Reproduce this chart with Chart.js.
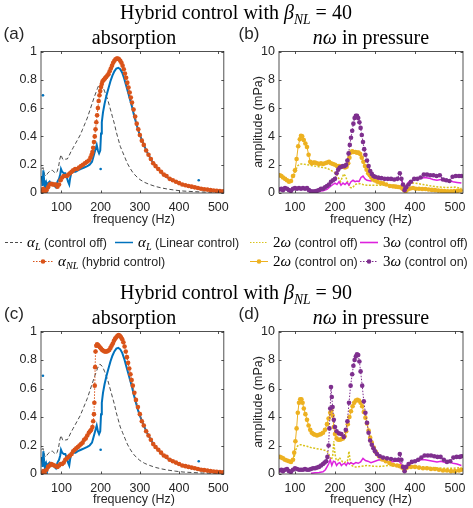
<!DOCTYPE html>
<html>
<head>
<meta charset="utf-8">
<script src="https://cdn.jsdelivr.net/npm/chart.js@4.4.1/dist/chart.umd.min.js"></script>
<style>
  body { margin: 0; background: #fff; }
  #wrap { position: relative; width: 473px; height: 508px; overflow: hidden; background: #fff; }
  canvas { position: absolute; }
  .txt { position: absolute; white-space: nowrap; line-height: 1; }
  .serif { font-family: "Liberation Serif", "DejaVu Serif", serif; color: #000; }
  .sans { font-family: "Liberation Sans", Arial, sans-serif; color: #262626; }
  .m { font-family: "Liberation Serif", serif; font-style: italic; font-size: 15px; color: #000; }
  .r { font-family: "Liberation Serif", serif; font-style: normal; }
  sub { font-size: 0.68em; vertical-align: -0.35em; line-height: 0; }
</style>
</head>
<body>
<div id="wrap">
  <canvas id="cA" width="236" height="177" style="left:0;top:40px"></canvas>
  <canvas id="cB" width="233" height="177" style="left:240px;top:40px"></canvas>
  <canvas id="cC" width="236" height="178" style="left:0;top:320px"></canvas>
  <canvas id="cD" width="233" height="178" style="left:240px;top:320px"></canvas>
  <canvas id="leg" width="473" height="508" style="left:0;top:0"></canvas>
</div>
<script>
// ---- data ----
const xTicks = [100, 200, 300, 400, 500];
const absTicks = [0, 0.2, 0.4, 0.6, 0.8, 1];
const ampTicks = [0, 2, 4, 6, 8, 10];

// absorption, control off (same in a and c)
const freqOff = [50,53,57,61,65,69,73,77,81,85,89,93,96,99,103,107,111,115,119,124,130,136,142,148,154,160,166,172,178,184,188,192,195,198,201,204,207,210,214,218,222,226,230,235,240,245,250,256,262,268,275,282,290,300,312,325,340,355,370,390,410,435,460,485,512];
const alphaOff = [0.17,0.18,0.13,0.12,0.14,0.15,0.16,0.16,0.15,0.14,0.15,0.19,0.24,0.27,0.24,0.23,0.24,0.24,0.26,0.29,0.32,0.35,0.38,0.41,0.45,0.49,0.53,0.58,0.63,0.68,0.71,0.74,0.76,0.77,0.765,0.755,0.74,0.72,0.69,0.66,0.62,0.58,0.54,0.49,0.43,0.38,0.33,0.29,0.25,0.21,0.175,0.145,0.12,0.095,0.075,0.06,0.046,0.036,0.028,0.02,0.014,0.01,0.007,0.005,0.003];

// absorption, linear control
const freqLin = [50,52,54,56,58,60,62,64,66,70,74,78,82,86,90,94,97,99,102,106,110,114,117,120,122,125,130,136,142,150,158,166,172,178,182,186,190,193,196,199,201,203,206,210,215,220,225,230,235,240,245,250,255,260,265,270,275,280,285,290,295,300,310,320,330,340,350,360,370,380,390,400,420,440,460,480,500,512];
const alphaLin = [0.12,0.05,0.16,0.09,0.04,0.02,0.06,0.03,0.07,0.08,0.06,0.07,0.05,0.04,0.08,0.1,0.13,0.17,0.15,0.14,0.14,0.11,0.08,0.06,0.1,0.14,0.15,0.15,0.16,0.17,0.18,0.19,0.2,0.22,0.26,0.3,0.34,0.3,0.28,0.3,0.42,0.5,0.57,0.63,0.69,0.74,0.79,0.83,0.86,0.88,0.885,0.875,0.85,0.81,0.76,0.71,0.66,0.61,0.55,0.5,0.45,0.41,0.34,0.28,0.23,0.19,0.16,0.13,0.11,0.095,0.08,0.068,0.05,0.037,0.027,0.02,0.014,0.012];
const freqLinOut = [53, 200, 450];
const alphaLinOut = [0.69, 0.17, 0.09];

// absorption, hybrid control beta 40
const freqNL40 = [50,54,58,62,66,70,74,78,82,86,90,94,98,102,106,110,114,118,122,126,130,135,140,145,150,155,160,165,170,174,177,179,181,183,185,187,189,191,193,195,197,199,201,203,205,208,211,214,217,220,223,226,229,232,235,238,241,244,247,250,253,256,259,262,265,268,271,274,277,280,284,288,292,296,300,305,310,316,322,328,334,340,347,354,361,368,376,384,392,400,408,416,424,432,440,448,456,464,472,480,488,496,504,512];
const alphaNL40 = [0.01,0.03,0.01,0.02,0.04,0.06,0.065,0.06,0.06,0.06,0.045,0.06,0.09,0.11,0.12,0.12,0.12,0.13,0.14,0.15,0.16,0.17,0.17,0.18,0.19,0.2,0.21,0.22,0.23,0.25,0.27,0.29,0.32,0.36,0.4,0.45,0.5,0.55,0.6,0.65,0.69,0.72,0.75,0.77,0.79,0.8,0.81,0.82,0.83,0.84,0.86,0.88,0.9,0.92,0.935,0.945,0.95,0.95,0.945,0.935,0.92,0.9,0.875,0.845,0.815,0.78,0.745,0.71,0.675,0.64,0.59,0.54,0.49,0.45,0.41,0.37,0.34,0.3,0.27,0.24,0.21,0.19,0.17,0.15,0.13,0.12,0.1,0.09,0.08,0.07,0.06,0.055,0.05,0.045,0.04,0.035,0.03,0.027,0.024,0.02,0.018,0.016,0.014,0.012];

// absorption, hybrid control beta 90
const freqNL90 = [50,54,58,62,66,70,74,78,82,86,90,94,98,102,106,110,114,118,122,126,130,134,138,142,146,150,154,158,162,166,170,173,176,179,181,183,184,185,186,187,189,191,193,195,198,201,204,207,210,213,216,219,222,225,228,231,234,237,240,243,246,249,252,255,258,261,264,267,270,273,276,279,282,286,290,295,300,305,310,316,322,328,334,340,347,354,361,368,376,384,392,400,408,416,424,432,440,448,456,464,472,480,488,496,504,512];
const alphaNL90 = [0.0,0.02,0.0,0.03,0.05,0.06,0.07,0.065,0.06,0.055,0.05,0.06,0.07,0.07,0.08,0.1,0.11,0.12,0.13,0.14,0.16,0.17,0.18,0.19,0.2,0.21,0.22,0.24,0.25,0.27,0.29,0.3,0.31,0.33,0.37,0.42,0.5,0.62,0.75,0.86,0.9,0.91,0.905,0.9,0.89,0.88,0.87,0.865,0.86,0.86,0.86,0.865,0.87,0.885,0.9,0.915,0.935,0.95,0.96,0.97,0.975,0.97,0.96,0.945,0.925,0.895,0.86,0.82,0.78,0.74,0.7,0.66,0.62,0.57,0.52,0.47,0.42,0.37,0.34,0.3,0.27,0.24,0.21,0.19,0.17,0.15,0.13,0.12,0.1,0.09,0.08,0.07,0.06,0.055,0.05,0.045,0.04,0.035,0.03,0.027,0.024,0.02,0.018,0.016,0.014,0.012];

// pressure harmonics, beta 40
const freqB2on = [62,66,70,75,80,85,90,95,100,104,108,112,115,118,122,126,130,134,138,142,146,150,155,160,165,170,175,180,185,190,195,200,205,210,215,220,225,229,233,236,239,243,247,251,255,259,263,267,271,275,279,283,287,291,295,300,306,313,320,328,337,345,352,358,364,369,373,377,382,388,395,402,410,418,426,434,442,450,458,466,474,482,490,498,506,514];
const b2on = [1.25,1.2,1.1,1.0,0.9,0.8,0.85,1.2,1.6,2.4,3.3,3.8,4.05,4.0,3.75,3.5,3.25,2.7,2.2,2.1,2.15,2.15,2.1,2.05,2.1,2.05,2.1,2.15,2.2,2.1,2.05,2.0,1.9,1.9,1.85,1.85,1.8,1.85,2.1,2.5,2.85,2.95,2.9,2.9,2.85,2.85,2.75,2.5,2.2,1.9,1.65,1.4,1.25,1.1,0.95,0.88,0.8,0.72,0.68,0.6,0.5,0.47,0.45,0.42,0.4,0.3,0.2,0.15,0.25,0.32,0.35,0.3,0.3,0.28,0.28,0.25,0.22,0.2,0.17,0.15,0.13,0.12,0.12,0.13,0.15,0.18];
const freqB2off = [98,102,106,110,115,120,130,140,150,160,170,180,190,196,202,206,210,214,218,222,226,230,234,238,242,246,250,256,263,270,280,295,310,325,345,360,366,370,374,380,390,400,420,440,460,480,500,516];
const b2off = [1.2,1.6,1.9,2.0,2.05,2.05,2.0,1.95,1.9,1.85,1.8,1.75,1.6,1.5,1.4,1.2,1.0,0.8,1.1,1.35,1.2,0.9,0.6,0.4,0.35,0.45,0.6,0.65,0.66,0.6,0.55,0.55,0.55,0.55,0.55,0.5,0.42,0.35,0.45,0.6,0.72,0.7,0.6,0.5,0.42,0.38,0.42,0.32];
const freqB3off = [150,160,170,180,190,195,200,205,210,215,220,225,230,235,240,245,250,255,260,265,270,275,280,290,300,310,320,330,340,350,360,366,370,374,378,385,395,405,415,425,435,445,455,465,475,485,495,505,516];
const b3off = [0.1,0.12,0.15,0.25,0.5,0.6,0.7,0.6,0.8,0.55,0.7,0.6,0.75,0.55,0.8,0.9,0.8,0.85,0.8,1.1,1.2,1.0,0.9,0.85,1.0,0.95,1.0,0.95,0.9,0.95,1.0,0.95,0.6,0.3,0.5,0.8,0.9,1.0,1.05,1.1,1.05,0.95,0.9,0.95,0.85,0.9,0.8,0.75,0.7];
const freqB3on = [62,66,70,75,80,85,90,95,100,105,110,115,120,125,130,135,140,145,150,155,160,165,170,175,180,185,190,195,200,204,208,212,216,220,224,228,231,234,237,240,243,246,249,252,255,258,261,264,267,270,273,276,280,284,288,292,296,300,308,316,324,332,340,348,356,362,366,370,374,378,384,390,398,406,414,422,430,438,446,454,462,470,478,486,494,502,510,516];
const b3on = [0.25,0.3,0.2,0.35,0.3,0.2,0.15,0.3,0.35,0.3,0.35,0.3,0.35,0.3,0.35,0.2,0.12,0.1,0.12,0.15,0.2,0.3,0.3,0.4,0.5,0.6,0.8,0.9,1.0,1.4,1.65,1.8,1.85,1.9,1.9,2.0,2.3,2.8,3.4,3.9,4.4,4.9,5.3,5.45,5.45,5.3,5.0,4.6,4.1,3.6,3.1,2.7,2.3,1.9,1.55,1.35,1.2,1.15,1.1,1.05,1.0,1.0,1.0,0.95,1.0,1.4,1.0,0.6,0.2,0.4,0.6,0.8,1.0,1.0,1.1,1.3,1.3,1.25,1.25,1.2,1.25,0.95,0.9,0.85,1.15,1.2,1.2,1.2];

// pressure harmonics, beta 90
const freqD2on = [62,66,70,75,80,85,90,95,98,101,104,107,110,113,116,119,122,126,130,134,138,142,146,150,155,160,165,170,175,180,184,188,191,194,197,200,204,208,212,216,220,224,228,232,236,240,244,248,252,256,260,264,268,272,276,280,284,288,292,297,302,310,318,327,336,345,355,362,368,374,380,390,400,410,420,430,440,450,460,470,480,490,500,510,516];
const d2on = [1.2,1.15,1.1,1.0,0.95,0.9,0.85,1.0,1.5,2.3,3.2,4.3,5.0,5.25,5.25,5.0,4.6,4.2,3.8,3.4,3.1,2.9,2.8,2.75,2.7,2.75,2.8,2.9,3.1,3.5,3.9,4.3,4.45,4.1,3.3,2.8,2.5,2.4,2.4,2.45,2.5,2.65,3.0,3.5,4.0,4.4,4.75,5.0,5.15,5.2,5.15,5.0,4.75,4.35,3.95,3.55,3.05,2.55,2.2,1.85,1.55,1.25,1.02,0.9,0.78,0.65,0.6,0.55,0.45,0.25,0.45,0.5,0.5,0.45,0.4,0.4,0.35,0.35,0.3,0.25,0.25,0.2,0.2,0.25,0.3];
const freqD2off = [98,102,106,110,115,120,130,140,150,160,170,176,182,186,190,194,197,200,203,207,211,215,219,223,227,231,235,238,242,248,256,266,280,295,310,335,360,366,370,374,380,395,420,445,470,495,516];
const d2off = [1.2,1.7,1.95,2.05,2.05,2.0,1.95,1.85,1.8,1.75,1.7,1.65,1.55,1.3,1.0,1.2,2.3,1.4,1.0,0.95,1.15,1.0,0.85,0.8,0.85,0.9,1.6,0.9,0.6,0.5,0.5,0.55,0.6,0.55,0.52,0.6,0.55,0.45,0.3,0.35,0.45,0.55,0.5,0.45,0.4,0.4,0.45];
const freqD3off = [140,150,160,170,176,180,184,188,192,196,200,204,208,212,216,220,224,228,232,236,240,246,252,258,264,270,276,282,290,300,310,320,330,340,350,360,366,372,378,386,395,405,415,425,435,445,455,465,475,485,495,505,516];
const d3off = [0.05,0.08,0.1,0.15,0.3,0.5,0.7,1.0,0.6,0.9,0.85,0.6,0.75,0.8,0.6,0.7,0.75,0.6,0.8,0.7,0.8,0.7,0.8,0.75,0.85,1.1,0.95,0.9,0.8,0.9,1.0,0.95,0.9,0.85,0.9,0.9,0.7,0.3,0.5,0.7,0.85,0.9,1.0,1.0,0.95,0.9,0.85,0.9,0.8,0.85,0.75,0.7,0.6];
const freqD3on = [62,66,70,75,80,85,90,95,100,105,110,115,120,125,130,135,140,145,150,155,160,165,170,174,178,181,184,186,188,190,192,194,197,200,204,210,216,222,227,231,235,239,243,246,249,252,255,258,261,264,268,272,276,280,284,288,292,296,300,305,312,320,330,340,350,358,362,366,370,374,378,384,392,400,408,416,424,432,440,448,456,464,472,480,488,496,504,512,516];
const d3on = [0.25,0.3,0.2,0.3,0.35,0.2,0.15,0.3,0.4,0.35,0.3,0.3,0.3,0.35,0.3,0.3,0.35,0.4,0.4,0.45,0.5,0.6,0.7,0.8,0.9,1.2,2.0,3.2,4.6,6.1,5.4,4.7,3.8,3.3,3.0,2.85,2.8,2.6,3.1,3.7,5.0,6.2,7.0,7.6,8.0,8.25,8.4,8.35,7.9,7.2,6.2,5.1,4.3,3.6,2.9,2.35,2.05,1.8,1.6,1.4,1.25,1.15,1.1,1.05,1.0,1.0,1.4,1.0,0.5,0.2,0.5,0.7,0.85,0.9,1.0,1.15,1.3,1.3,1.3,1.25,1.2,1.2,1.0,0.85,0.9,1.15,1.2,1.2,1.25];

// ---- styles ----
const C = {
    gray: 'rgba(45,45,45,0.85)',
    blue: '#0072BD',
    orange: '#D95319',
    gold: '#EDB120',
    yellow: '#D9C31C',
    magenta: '#DD22DD',
    purple: '#7E2F8E'
};
const axisColor = '#262626';
const tickFont = { family: '"Liberation Sans", Arial, sans-serif', size: 12.5 };

function pts (f, v) {
    return f.map((x, i) => ({ x, y: v[i] }));
}

// box round the plot with inward ticks, as in the original figure
const boxPlugin = {
    id: 'box',
    afterDatasetsDraw (chart) {
        const { ctx, chartArea: a, scales: { x, y } } = chart;
        const L = 2.5;
        ctx.save();
        ctx.strokeStyle = axisColor;
        ctx.lineWidth = 0.8;
        ctx.strokeRect(a.left, a.top, a.right - a.left, a.bottom - a.top);
        ctx.beginPath();
        x.ticks.forEach(t => {
            const px = Math.round(x.getPixelForValue(t.value)) + 0.5;
            ctx.moveTo(px, a.bottom); ctx.lineTo(px, a.bottom - L);
            ctx.moveTo(px, a.top); ctx.lineTo(px, a.top + L);
        });
        y.ticks.forEach(t => {
            const py = Math.round(y.getPixelForValue(t.value)) + 0.5;
            ctx.moveTo(a.left, py); ctx.lineTo(a.left + L, py);
            ctx.moveTo(a.right, py); ctx.lineTo(a.right - L, py);
        });
        ctx.stroke();
        ctx.restore();
    }
};

function scales (xmin, xmax, ymax, yTicks, yWidth) {
    return {
        x: {
            type: 'linear', min: xmin, max: xmax,
            grid: { display: false, drawTicks: false }, border: { display: false },
            afterBuildTicks: s => { s.ticks = xTicks.map(v => ({ value: v })); },
            afterFit: s => { s.height = 24; },
            ticks: { font: tickFont, color: axisColor, padding: 7, maxRotation: 0, callback: v => String(v) }
        },
        y: {
            type: 'linear', min: 0, max: ymax,
            grid: { display: false, drawTicks: false }, border: { display: false },
            afterBuildTicks: s => { s.ticks = yTicks.map(v => ({ value: v })); },
            afterFit: s => { s.width = yWidth; },
            ticks: { font: tickFont, color: axisColor, padding: 4, callback: v => String(v) }
        }
    };
}

function makeChart (id, datasets, sc, padRight) {
    return new Chart(document.getElementById(id), {
        type: 'line',
        data: { datasets },
        plugins: [boxPlugin],
        options: {
            responsive: false,
            animation: false,
            events: [],
            layout: { padding: { top: 11, right: padRight, left: 0, bottom: 0 } },
            elements: { line: { tension: 0 } },
            plugins: { legend: { display: false }, tooltip: { enabled: false } },
            scales: sc
        }
    });
}

function absorptionSets (freqNL, alphaNL) {
    return [
        { data: pts(freqOff, alphaOff), borderColor: C.gray, borderDash: [4, 2.5], borderWidth: 1, pointRadius: 0, order: 3 },
        { data: pts(freqLin, alphaLin), borderColor: C.blue, borderWidth: 2, pointRadius: 0, order: 2 },
        { data: pts(freqLinOut, alphaLinOut), showLine: false, pointRadius: 1.3, pointBackgroundColor: C.blue, pointBorderWidth: 0, order: 2 },
        { data: pts(freqNL, alphaNL), borderColor: C.orange, borderDash: [1.5, 1.5], borderWidth: 1, pointRadius: 2.3, pointBackgroundColor: C.orange, pointBorderWidth: 0, order: 1 }
    ];
}

function pressureSets (f2off, v2off, f3off, v3off, f2on, v2on, f3on, v3on) {
    return [
        { data: pts(f2off, v2off), borderColor: C.yellow, borderDash: [2, 1.5], borderWidth: 1.5, pointRadius: 0, order: 4 },
        { data: pts(f3off, v3off), borderColor: C.magenta, borderWidth: 1.5, pointRadius: 0, order: 3 },
        { data: pts(f2on, v2on), borderColor: C.gold, borderWidth: 1, pointRadius: 2.3, pointBackgroundColor: C.gold, pointBorderWidth: 0, order: 2 },
        { data: pts(f3on, v3on), borderColor: C.purple, borderDash: [1.5, 1.5], borderWidth: 1, pointRadius: 2.3, pointBackgroundColor: C.purple, pointBorderWidth: 0, order: 1 }
    ];
}

makeChart('cA', absorptionSets(freqNL40, alphaNL40), scales(48, 514, 1, absTicks, 41), 8);
makeChart('cC', absorptionSets(freqNL90, alphaNL90), scales(48, 514, 1, absTicks, 41), 8);
makeChart('cB', pressureSets(freqB2off, b2off, freqB3off, b3off, freqB2on, b2on, freqB3on, b3on), scales(60, 520, 10, ampTicks, 39), 10);
makeChart('cD', pressureSets(freqD2off, d2off, freqD3off, d3off, freqD2on, d2on, freqD3on, d3on), scales(60, 520, 10, ampTicks, 39), 10);

// ---- text ----
const wrap = document.getElementById('wrap');
function put (html, x, y, cls, size, how) {
    const d = document.createElement('div');
    d.className = 'txt ' + cls;
    d.style.fontSize = size + 'px';
    d.innerHTML = html;
    d.style.left = x + 'px';
    d.style.top = y + 'px';
    if (how === 'left') d.style.transform = 'translate(0,-50%)';
    else if (how === 'rot') d.style.transform = 'translate(-50%,-50%) rotate(-90deg)';
    else d.style.transform = 'translate(-50%,-50%)';
    wrap.appendChild(d);
}

const titleTop = 'Hybrid control with <i>β</i><sub><i>NL</i></sub> = 40';
const titleBottom = 'Hybrid control with <i>β</i><sub><i>NL</i></sub> = 90';
put(titleTop, 236, 12, 'serif', 20);
put(titleBottom, 236, 292, 'serif', 20);
[[0, 0], [0, 280]].forEach(([dx, dy], i) => {
    put('absorption', 134, 37 + dy, 'serif', 20);
    put('<i>nω</i> in pressure', 371, 37 + dy, 'serif', 20);
    put(i ? '(c)' : '(a)', 14, 33 + dy, 'sans', 17);
    put(i ? '(d)' : '(b)', 249, 33 + dy, 'sans', 17);
    put('frequency (Hz)', 134, 219 + dy, 'sans', 12.5);
    put('frequency (Hz)', 371, 219 + dy, 'sans', 12.5);
    put('amplitude (mPa)', 258, 122 + dy, 'sans', 12.5, 'rot');
});

// ---- legend ----
const legendItems = [
    { x0: 5, x1: 22, y: 242, color: C.gray, dash: [3, 2], w: 1, dot: false, text: '<span class="m">α<sub>L</sub></span> (control off)' },
    { x0: 115, x1: 133, y: 242, color: C.blue, dash: [], w: 1.5, dot: false, text: '<span class="m">α<sub>L</sub></span> (Linear control)' },
    { x0: 250, x1: 268, y: 242, color: C.yellow, dash: [1.5, 1.5], w: 1.2, dot: false, text: '<span class="m"><span class="r">2</span>ω</span> (control off)' },
    { x0: 360, x1: 378, y: 242, color: C.magenta, dash: [], w: 1.6, dot: false, text: '<span class="m"><span class="r">3</span>ω</span> (control off)' },
    { x0: 33, x1: 53, y: 261, color: C.orange, dash: [1.5, 1.5], w: 1, dot: true, text: '<span class="m">α<sub>NL</sub></span> (hybrid control)' },
    { x0: 250, x1: 268, y: 261, color: C.gold, dash: [], w: 1, dot: true, text: '<span class="m"><span class="r">2</span>ω</span> (control on)' },
    { x0: 360, x1: 378, y: 261, color: C.purple, dash: [1.5, 1.5], w: 1, dot: true, text: '<span class="m"><span class="r">3</span>ω</span> (control on)' }
];
const lg = document.getElementById('leg').getContext('2d');
legendItems.forEach(it => {
    lg.save();
    lg.strokeStyle = it.color;
    lg.lineWidth = it.w;
    lg.setLineDash(it.dash);
    lg.beginPath();
    lg.moveTo(it.x0, it.y + 0.5);
    lg.lineTo(it.x1, it.y + 0.5);
    lg.stroke();
    if (it.dot) {
        lg.fillStyle = it.color;
        lg.beginPath();
        lg.arc((it.x0 + it.x1) / 2, it.y + 0.5, 2.3, 0, Math.PI * 2);
        lg.fill();
    }
    lg.restore();
    put(it.text, it.x1 + 5, it.y, 'sans', 12.5, 'left');
});
</script>
</body>
</html>
